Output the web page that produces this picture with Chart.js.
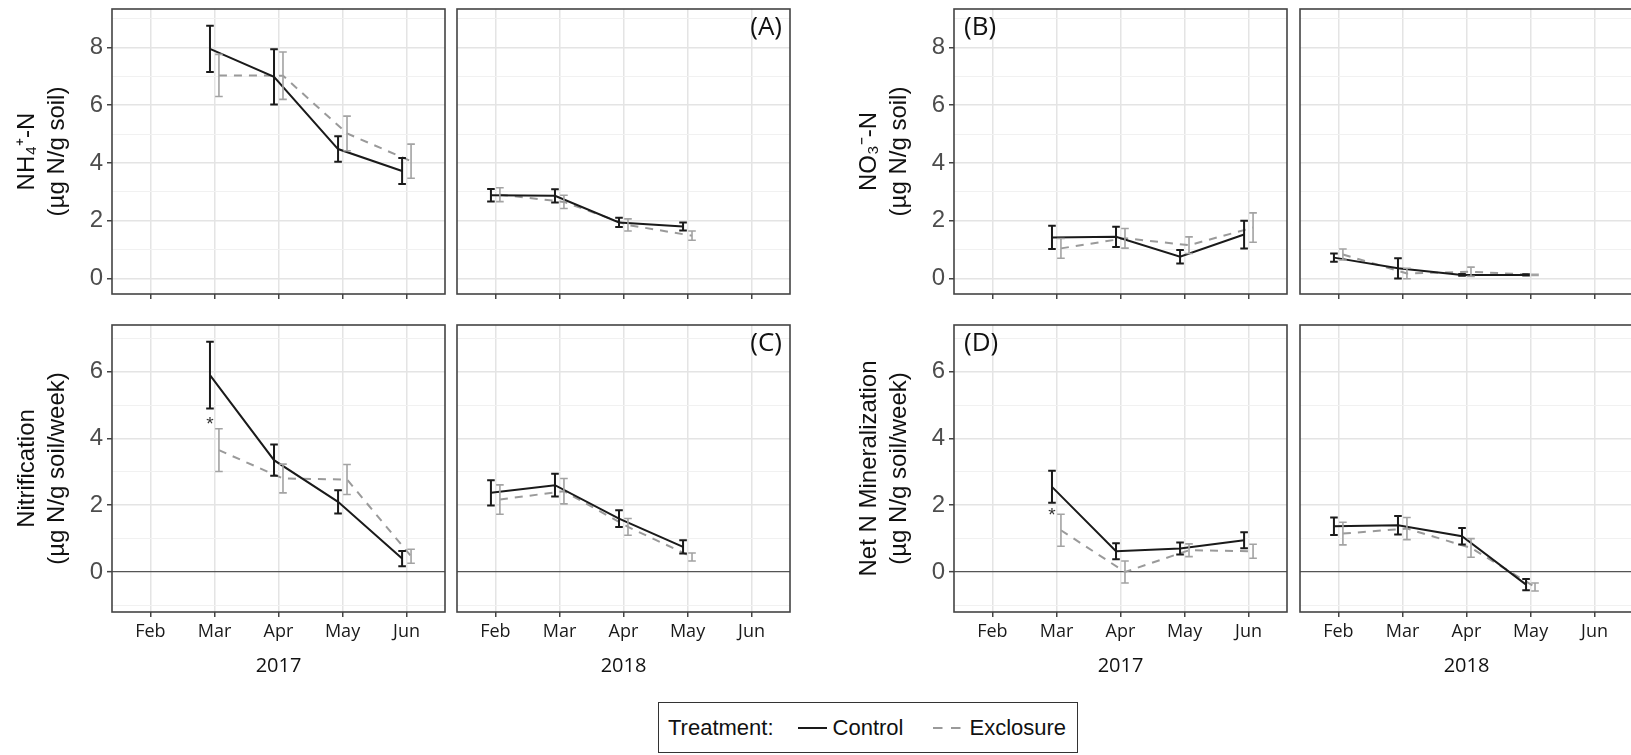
<!DOCTYPE html>
<html>
<head>
<meta charset="utf-8">
<title>Soil nitrogen by treatment</title>
<script src="https://cdn.jsdelivr.net/npm/chart.js@4.4.1/dist/chart.umd.min.js"></script>
<style>
  html, body { margin: 0; padding: 0; background: #fff; }
  #fig { position: relative; width: 1631px; height: 755px; overflow: hidden; background: #fff; }
  #fig canvas { position: absolute; }
  .legend {
    position: absolute; left: 658px; top: 702px; width: 418px; height: 49px;
    border: 1.5px solid #333; box-sizing: content-box;
    font-family: 'Liberation Sans', Arial, Helvetica, sans-serif; font-size: 22px; color: #111;
    display: flex; align-items: center;
  }
  .legend span { white-space: nowrap; }
  .legend svg { display: block; }
</style>
</head>
<body>
<div id="fig">
  <div class="legend">
    <span style="margin-left:9px">Treatment:</span>
    <svg width="29" height="4" style="margin-left:24px"><line x1="0" y1="2" x2="29" y2="2" stroke="#1a1a1a" stroke-width="2"/></svg>
    <span style="margin-left:6px">Control</span>
    <svg width="29" height="4" style="margin-left:30px"><line x1="0" y1="2" x2="29" y2="2" stroke="#9a9a9a" stroke-width="2" stroke-dasharray="9.5 8.5"/></svg>
    <span style="margin-left:7px">Exclosure</span>
  </div>
</div>
<script>
// ---- sampling months (2 = Feb ... 6 = Jun) ----
const months2017 = [3, 4, 5, 6];
const months2018 = [2, 3, 4, 5];
const monthTicks = [2, 3, 4, 5, 6];
const monthLabels = ['Feb', 'Mar', 'Apr', 'May', 'Jun'];
const yearLabels = ['2017', '2018'];

// ---- y tick labels ----
const concTicks = [0, 2, 4, 6, 8];        // NH4 / NO3 panels
const rateTicks = [0, 2, 4, 6];           // nitrification / mineralization panels

// ---- (A) NH4+-N, ug N/g soil: mean and standard error ----
const nh4Control2017 = [7.95, 6.98, 4.48, 3.72];
const nh4ControlSe2017 = [0.80, 0.96, 0.44, 0.45];
const nh4Excl2017 = [7.03, 7.02, 5.02, 4.06];
const nh4ExclSe2017 = [0.73, 0.82, 0.60, 0.59];
const nh4Control2018 = [2.88, 2.86, 1.94, 1.80];
const nh4ControlSe2018 = [0.22, 0.23, 0.16, 0.14];
const nh4Excl2018 = [2.90, 2.65, 1.85, 1.48];
const nh4ExclSe2018 = [0.24, 0.23, 0.21, 0.16];

// ---- (B) NO3--N, ug N/g soil ----
const no3Control2017 = [1.42, 1.44, 0.75, 1.52];
const no3ControlSe2017 = [0.40, 0.35, 0.23, 0.48];
const no3Excl2017 = [1.04, 1.39, 1.15, 1.76];
const no3ExclSe2017 = [0.34, 0.34, 0.29, 0.51];
const no3Control2018 = [0.72, 0.35, 0.12, 0.12];
const no3ControlSe2018 = [0.14, 0.35, 0.03, 0.02];
const no3Excl2018 = [0.83, 0.17, 0.23, 0.12];
const no3ExclSe2018 = [0.19, 0.18, 0.16, 0.02];

// ---- (C) Nitrification, ug N/g soil/week ----
const nitControl2017 = [5.90, 3.35, 2.10, 0.40];
const nitControlSe2017 = [1.00, 0.47, 0.35, 0.23];
const nitExcl2017 = [3.65, 2.80, 2.77, 0.47];
const nitExclSe2017 = [0.64, 0.43, 0.45, 0.21];
const nitControl2018 = [2.37, 2.60, 1.60, 0.75];
const nitControlSe2018 = [0.38, 0.34, 0.25, 0.20];
const nitExcl2018 = [2.17, 2.42, 1.35, 0.45];
const nitExclSe2018 = [0.44, 0.38, 0.25, 0.12];

// ---- (D) Net N mineralization, ug N/g soil/week ----
const minControl2017 = [2.55, 0.62, 0.70, 0.95];
const minControlSe2017 = [0.48, 0.24, 0.18, 0.24];
const minExcl2017 = [1.25, 0.00, 0.65, 0.62];
const minExclSe2017 = [0.48, 0.33, 0.19, 0.21];
const minControl2018 = [1.37, 1.40, 1.07, -0.38];
const minControlSe2018 = [0.26, 0.28, 0.25, 0.17];
const minExcl2018 = [1.15, 1.30, 0.72, -0.45];
const minExclSe2018 = [0.34, 0.33, 0.28, 0.12];

// ---- significance marks (month, height of the "*") ----
const nitSignif = [3, 4.40];
const minSignif = [3, 1.67];

// ---------------- layout & style ----------------
const Y_FONT = "'Liberation Sans', Arial, Helvetica, sans-serif";
const X_FONT = "'Open Sans', 'DejaVu Sans', sans-serif";
const ROWS = [{ top: 9, height: 285 }, { top: 325, height: 287 }];
const COLS = [112, 457, 954, 1300];
const PANEL_W = 333;
const PAD_T = 22, PAD_R = 4, PAD_L = 4, Y_AXIS_W = 112;
const X_AXIS_H = [22, 70];
const DODGE = 0.07;
const X_RANGE = [1.4, 6.6];
const Y_RANGE = [[-0.54, 9.33], [-1.2, 7.4]];
const GRID_MAJOR = '#e4e4e4', GRID_MINOR = '#f1f1f1', FRAME = '#444';

function integerRange(lo, hi) {
  const out = [];
  for (let v = Math.ceil(lo); v <= Math.floor(hi); v++) out.push(v);
  return out;
}

function points(months, means, offset) {
  return months.map((m, i) => ({ x: m + offset, y: means[i] }));
}

function controlSet(months, means, se) {
  return {
    label: 'Control', data: points(months, means, -DODGE), se,
    borderColor: '#1a1a1a', borderWidth: 2, pointRadius: 0, tension: 0,
    errColor: '#1a1a1a', errWidth: 2
  };
}
function exclosureSet(months, means, se) {
  return {
    label: 'Exclosure', data: points(months, means, DODGE), se,
    borderColor: '#9a9a9a', borderWidth: 2, borderDash: [8, 7], pointRadius: 0, tension: 0,
    errColor: '#a3a3a3', errWidth: 1.6
  };
}

// error bars, significance stars, panel tags and the panel frame
const facetDecor = {
  id: 'facetDecor',
  afterDatasetsDraw(chart, args, o) {
    const { ctx, chartArea: a } = chart;
    const xs = chart.scales.x, ys = chart.scales.y;
    ctx.save();
    ctx.setLineDash([]);
    const cap = 3.8;
    for (let i = chart.data.datasets.length - 1; i >= 0; i--) {
      const ds = chart.data.datasets[i];
      ctx.strokeStyle = ds.errColor;
      ctx.lineWidth = ds.errWidth;
      ds.data.forEach((p, j) => {
        const px = xs.getPixelForValue(p.x);
        const hi = ys.getPixelForValue(p.y + ds.se[j]);
        const lo = ys.getPixelForValue(p.y - ds.se[j]);
        ctx.beginPath();
        ctx.moveTo(px, hi); ctx.lineTo(px, lo);
        ctx.moveTo(px - cap, hi); ctx.lineTo(px + cap, hi);
        ctx.moveTo(px - cap, lo); ctx.lineTo(px + cap, lo);
        ctx.stroke();
      });
    }
    if (o.star) {
      ctx.fillStyle = '#333';
      ctx.font = '19px ' + Y_FONT;
      ctx.textAlign = 'center';
      ctx.textBaseline = 'middle';
      ctx.fillText('*', xs.getPixelForValue(o.star[0] - DODGE), ys.getPixelForValue(o.star[1]));
    }
    if (o.tag) {
      ctx.fillStyle = '#111';
      ctx.font = '26px ' + X_FONT;
      ctx.textBaseline = 'top';
      if (o.tagSide === 'right') {
        ctx.textAlign = 'right';
        ctx.fillText(o.tag, a.right - 8, a.top + 6);
      } else {
        ctx.textAlign = 'left';
        ctx.fillText(o.tag, a.left + 10, a.top + 6);
      }
    }
    ctx.strokeStyle = FRAME;
    ctx.lineWidth = 1.6;
    ctx.strokeRect(a.left, a.top, a.right - a.left, a.bottom - a.top);
    ctx.restore();
  }
};

function makeFacet(f) {
  const row = f.row, showY = f.col % 2 === 0, bottom = row === 1;
  const [yMin, yMax] = Y_RANGE[row];
  const majors = row === 0 ? concTicks : rateTicks;
  const yTicks = integerRange(yMin, yMax);
  const leftSpace = showY ? Y_AXIS_W : PAD_L;
  const canvas = document.createElement('canvas');
  const w = leftSpace + PANEL_W + PAD_R;
  const h = PAD_T + ROWS[row].height + X_AXIS_H[row];
  canvas.width = w; canvas.height = h;
  canvas.style.width = w + 'px'; canvas.style.height = h + 'px';
  canvas.style.left = (COLS[f.col] - leftSpace) + 'px';
  canvas.style.top = (ROWS[row].top - PAD_T) + 'px';
  document.getElementById('fig').appendChild(canvas);

  new Chart(canvas, {
    type: 'line',
    data: { datasets: [f.control, f.exclosure] },
    plugins: [facetDecor],
    options: {
      responsive: false,
      animation: false,
      events: [],
      layout: { autoPadding: false, padding: { top: PAD_T, right: PAD_R, bottom: 0, left: showY ? 0 : PAD_L } },
      plugins: {
        legend: { display: false },
        tooltip: { enabled: false },
        facetDecor: { star: f.star || null, tag: f.tag || null, tagSide: f.tagSide || 'left' }
      },
      scales: {
        x: {
          type: 'linear', min: X_RANGE[0], max: X_RANGE[1],
          afterBuildTicks: s => { s.ticks = monthTicks.map(v => ({ value: v })); },
          afterFit: s => { s.height = X_AXIS_H[row]; },
          ticks: {
            display: bottom, autoSkip: false, maxRotation: 0, padding: 4,
            callback: v => monthLabels[monthTicks.indexOf(v)],
            font: { family: X_FONT, size: 18 }, color: '#1a1a1a'
          },
          grid: { color: GRID_MAJOR, lineWidth: 1.5, drawTicks: true, tickLength: 5, tickColor: FRAME, tickWidth: 1.5 },
          border: { display: false },
          title: {
            display: bottom, text: f.year,
            font: { family: X_FONT, size: 20, lineHeight: 1.2 }, color: '#111',
            padding: { top: 4, bottom: 4 }
          }
        },
        y: {
          type: 'linear', min: yMin, max: yMax,
          afterBuildTicks: s => { s.ticks = yTicks.map(v => ({ value: v })); },
          afterFit: s => { s.width = showY ? Y_AXIS_W : 0; },
          ticks: {
            display: showY, padding: 4,
            callback: v => (majors.includes(v) ? String(v) : ''),
            font: { family: Y_FONT, size: 24, lineHeight: 1.1 }, color: '#4d4d4d'
          },
          grid: {
            color: c => (row === 1 && c.tick.value === 0) ? '#555' : (majors.includes(c.tick.value) ? GRID_MAJOR : GRID_MINOR),
            lineWidth: c => (row === 1 && c.tick.value === 0) ? 1.3 : (majors.includes(c.tick.value) ? 1.5 : 1),
            drawTicks: showY, tickLength: 5, tickWidth: 1.5,
            tickColor: c => majors.includes(c.tick.value) ? FRAME : 'rgba(0,0,0,0)'
          },
          border: { display: false },
          title: {
            display: showY && !!f.yTitle, text: f.yTitle || '',
            font: { family: Y_FONT, size: 24, lineHeight: 1.22 }, color: '#111',
            padding: { top: 13, bottom: 0 }
          }
        }
      }
    }
  });
}

const facets = [
  { row: 0, col: 0, year: yearLabels[0], yTitle: ['NH\u2084\u207A-N', '(\u00B5g N/g soil)'],
    control: controlSet(months2017, nh4Control2017, nh4ControlSe2017),
    exclosure: exclosureSet(months2017, nh4Excl2017, nh4ExclSe2017) },
  { row: 0, col: 1, year: yearLabels[1], tag: '(A)', tagSide: 'right',
    control: controlSet(months2018, nh4Control2018, nh4ControlSe2018),
    exclosure: exclosureSet(months2018, nh4Excl2018, nh4ExclSe2018) },
  { row: 0, col: 2, year: yearLabels[0], yTitle: ['NO\u2083\u207B-N', '(\u00B5g N/g soil)'], tag: '(B)', tagSide: 'left',
    control: controlSet(months2017, no3Control2017, no3ControlSe2017),
    exclosure: exclosureSet(months2017, no3Excl2017, no3ExclSe2017) },
  { row: 0, col: 3, year: yearLabels[1],
    control: controlSet(months2018, no3Control2018, no3ControlSe2018),
    exclosure: exclosureSet(months2018, no3Excl2018, no3ExclSe2018) },
  { row: 1, col: 0, year: yearLabels[0], yTitle: ['Nitrification', '(\u00B5g N/g soil/week)'], star: nitSignif,
    control: controlSet(months2017, nitControl2017, nitControlSe2017),
    exclosure: exclosureSet(months2017, nitExcl2017, nitExclSe2017) },
  { row: 1, col: 1, year: yearLabels[1], tag: '(C)', tagSide: 'right',
    control: controlSet(months2018, nitControl2018, nitControlSe2018),
    exclosure: exclosureSet(months2018, nitExcl2018, nitExclSe2018) },
  { row: 1, col: 2, year: yearLabels[0], yTitle: ['Net N Mineralization', '(\u00B5g N/g soil/week)'], tag: '(D)', tagSide: 'left', star: minSignif,
    control: controlSet(months2017, minControl2017, minControlSe2017),
    exclosure: exclosureSet(months2017, minExcl2017, minExclSe2017) },
  { row: 1, col: 3, year: yearLabels[1],
    control: controlSet(months2018, minControl2018, minControlSe2018),
    exclosure: exclosureSet(months2018, minExcl2018, minExclSe2018) }
];

facets.forEach(makeFacet);
</script>
</body>
</html>
